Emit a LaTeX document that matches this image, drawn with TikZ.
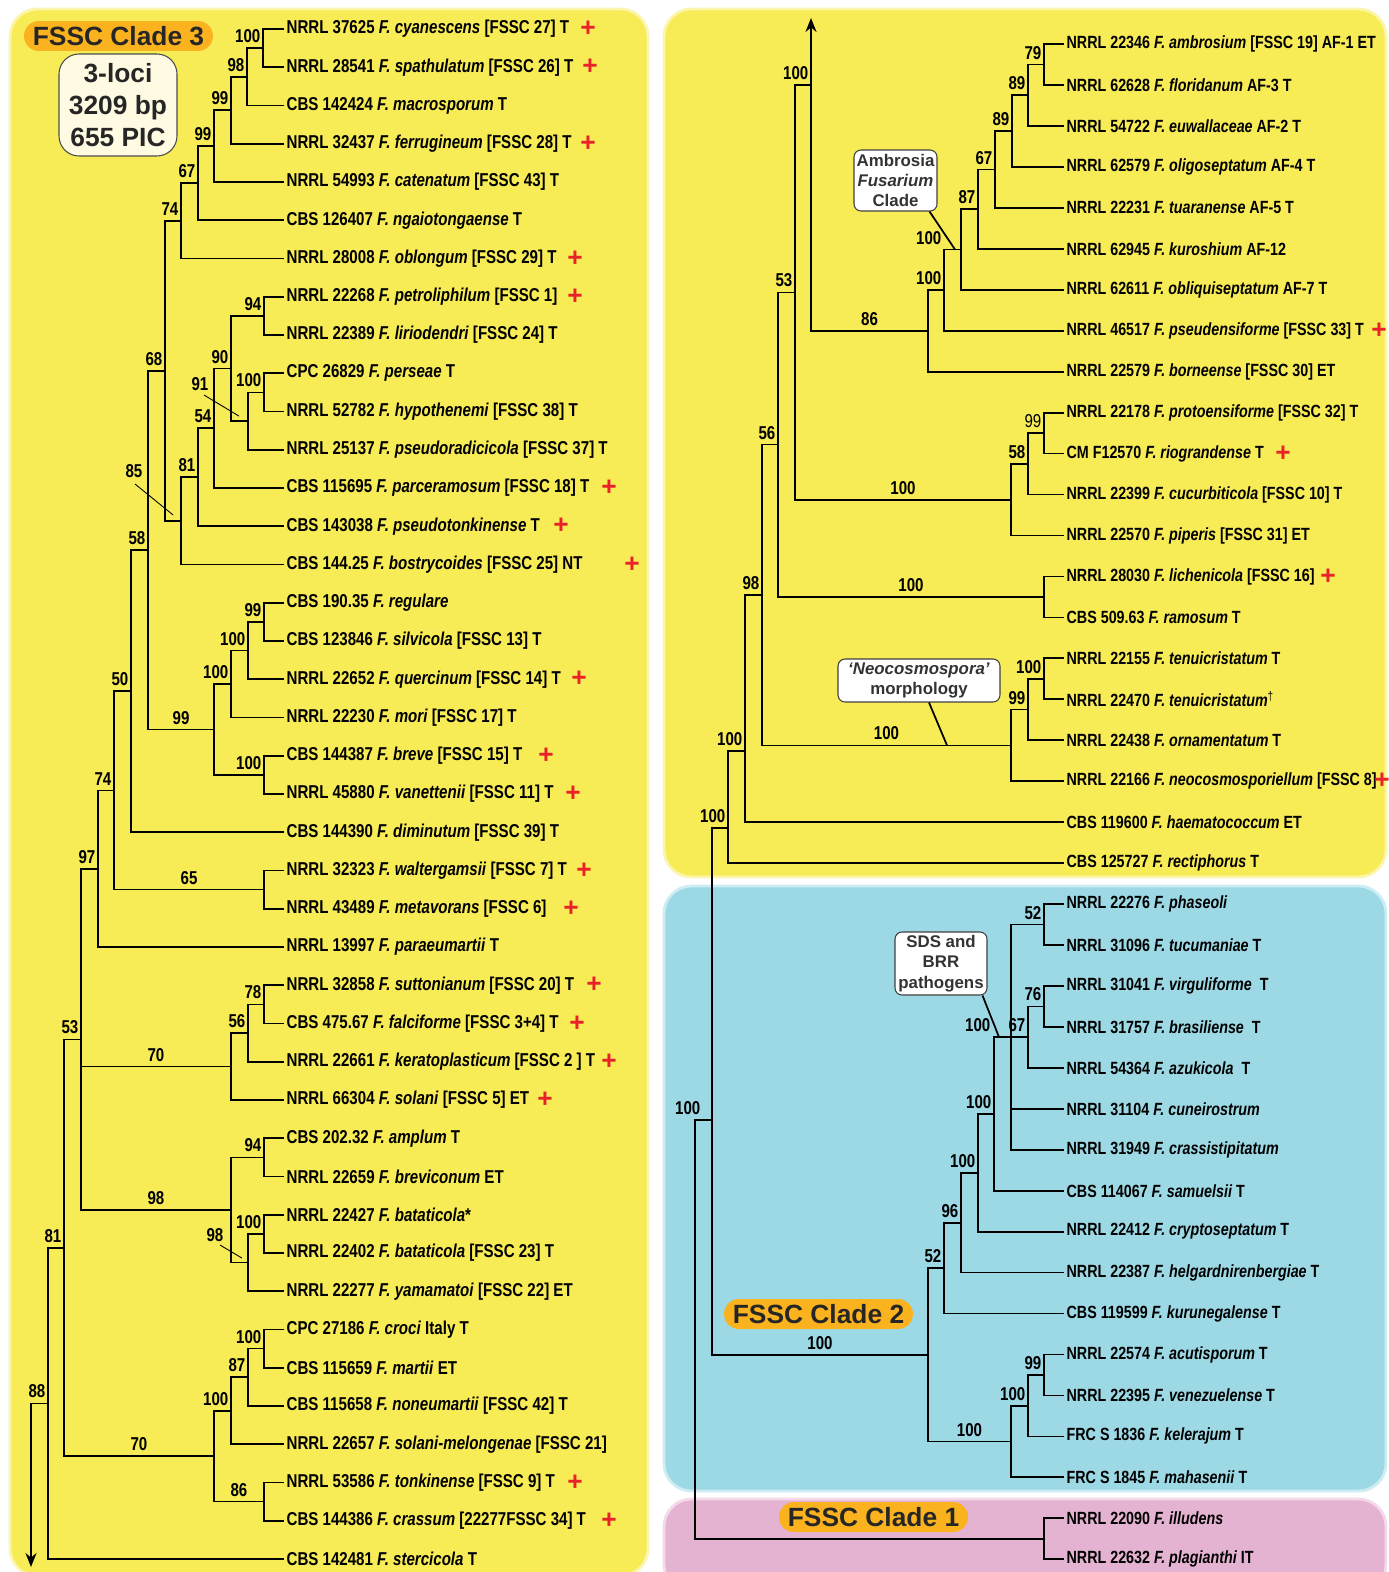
\documentclass[tikz,border=0pt]{standalone}
\usepackage{fontspec}
\setmainfont{Liberation Sans}
\newfontfamily\nar{Liberation Sans}[FakeStretch=0.81]
\usetikzlibrary{arrows.meta,calc}

\definecolor{panelY}{RGB}{247,235,86}
\definecolor{panelYedge}{RGB}{251,246,172}
\definecolor{panelB}{RGB}{156,217,229}
\definecolor{panelBedge}{RGB}{206,236,244}
\definecolor{panelP}{RGB}{229,179,210}
\definecolor{panelPedge}{RGB}{244,217,234}
\definecolor{pill}{RGB}{250,178,30}
\definecolor{cream}{RGB}{255,251,226}
\definecolor{crossred}{RGB}{232,34,40}

\newcommand{\Fs}[1]{\textit{F. #1}}

\tikzset{
  taxon/.style={anchor=west, inner sep=1pt, font=\nar\bfseries\fontsize{10.6}{12}\selectfont},
  rtaxon/.style={taxon, font=\nar\bfseries\fontsize{10.05}{12}\selectfont},
  bs/.style={anchor=south east, inner sep=1pt, yshift=1.5pt, font=\nar\bfseries\fontsize{10.6}{12}\selectfont},
  bsm/.style={midway, anchor=south, inner sep=1pt, yshift=1.5pt, font=\nar\bfseries\fontsize{10.6}{12}\selectfont},
  bsl/.style={inner sep=1pt, font=\nar\bfseries\fontsize{10.6}{12}\selectfont},
  crossmark/.style={text=crossred, inner sep=0pt, font=\bfseries\fontsize{15}{15}\selectfont},
  leader/.style={line width=0.5pt},
  note/.style={draw=black!75, fill=white, line width=0.6pt, rounded corners=4pt, align=center,
    inner sep=0pt, text=black!80, font=\bfseries\fontsize{9.6}{11.6}\selectfont},
  clade/.style={fill=pill, rounded corners=0.3cm, minimum width=3.78cm, minimum height=0.6cm,
    inner sep=0pt, text=black!85, font=\bfseries\fontsize{15}{15}\selectfont},
  panel/.style={line width=1.6pt, rounded corners=0.55cm},
}

\begin{document}
\begin{tikzpicture}[x=0.02cm, y=-0.02cm, line width=1pt]
  \useasboundingbox (0,0) rectangle (1389,1572);
  \fill[white] (0,0) rectangle (1389,1572);

  % panels
  \draw[panel, fill=panelY, draw=panelYedge] (10,9) rectangle (648,1576);
  \draw[panel, fill=panelY, draw=panelYedge] (664,9) rectangle (1386,877);
  \draw[panel, fill=panelB, draw=panelBedge] (664,886) rectangle (1386,1491);
  \draw[panel, fill=panelP, draw=panelPedge] (664,1499) rectangle (1386,1592);

  % ---------------- left tree: taxa ----------------
  \foreach \t [count=\i] in {
    {NRRL 37625 \Fs{cyanescens} [FSSC 27] T},
    {NRRL 28541 \Fs{spathulatum} [FSSC 26] T},
    {CBS 142424 \Fs{macrosporum} T},
    {NRRL 32437 \Fs{ferrugineum} [FSSC 28] T},
    {NRRL 54993 \Fs{catenatum} [FSSC 43] T},
    {CBS 126407 \Fs{ngaiotongaense} T},
    {NRRL 28008 \Fs{oblongum} [FSSC 29] T},
    {NRRL 22268 \Fs{petroliphilum} [FSSC 1]},
    {NRRL 22389 \Fs{liriodendri} [FSSC 24] T},
    {CPC 26829 \Fs{perseae} T},
    {NRRL 52782 \Fs{hypothenemi} [FSSC 38] T},
    {NRRL 25137 \Fs{pseudoradicicola} [FSSC 37] T},
    {CBS 115695 \Fs{parceramosum} [FSSC 18] T},
    {CBS 143038 \Fs{pseudotonkinense} T},
    {CBS 144.25 \Fs{bostrycoides} [FSSC 25] NT},
    {CBS 190.35 \Fs{regulare}},
    {CBS 123846 \Fs{silvicola} [FSSC 13] T},
    {NRRL 22652 \Fs{quercinum} [FSSC 14] T},
    {NRRL 22230 \Fs{mori} [FSSC 17] T},
    {CBS 144387 \Fs{breve} [FSSC 15] T},
    {NRRL 45880 \Fs{vanettenii} [FSSC 11] T},
    {CBS 144390 \Fs{diminutum} [FSSC 39] T},
    {NRRL 32323 \Fs{waltergamsii} [FSSC 7] T},
    {NRRL 43489 \Fs{metavorans} [FSSC 6]},
    {NRRL 13997 \Fs{paraeumartii} T},
    {NRRL 32858 \Fs{suttonianum} [FSSC 20] T},
    {CBS 475.67 \Fs{falciforme} [FSSC 3+4] T},
    {NRRL 22661 \Fs{keratoplasticum} [FSSC 2 ] T},
    {NRRL 66304 \Fs{solani} [FSSC 5] ET},
    {CBS 202.32 \Fs{amplum} T},
    {NRRL 22659 \Fs{breviconum} ET},
    {NRRL 22427 \Fs{bataticola}*},
    {NRRL 22402 \Fs{bataticola} [FSSC 23] T},
    {NRRL 22277 \Fs{yamamatoi} [FSSC 22] ET},
    {CPC 27186 \Fs{croci} Italy T},
    {CBS 115659 \Fs{martii} ET},
    {CBS 115658 \Fs{noneumartii} [FSSC 42] T},
    {NRRL 22657 \Fs{solani-melongenae} [FSSC 21]},
    {NRRL 53586 \Fs{tonkinense} [FSSC 9] T},
    {CBS 144386 \Fs{crassum} [22277FSSC 34] T},
    {CBS 142481 \Fs{stercicola} T}}
    \node[taxon] (l\i) at (284,{29+38.25*(\i-1)}) {\t};

  % left internal nodes
  \coordinate (a1) at (263,48.1);   \coordinate (a2) at (247,76.8);
  \coordinate (a3) at (231,110.3);  \coordinate (a4) at (214,146.1);
  \coordinate (a5) at (198,183.2);  \coordinate (a6) at (181,220.9);
  \coordinate (b1) at (264,315.9);  \coordinate (b2) at (264,392.4);
  \coordinate (b3) at (248,421.1);  \coordinate (b4) at (231,368.5);
  \coordinate (b5) at (214,428.2);  \coordinate (b6) at (198,477.2);
  \coordinate (b7) at (181,520.9);  \coordinate (c68) at (165,370.9);
  \coordinate (d1) at (264,621.9);  \coordinate (d2) at (248,650.6);
  \coordinate (d3) at (231,684);    \coordinate (d4) at (264,774.9);
  \coordinate (d5) at (214,729.5);  \coordinate (c58) at (148,550.2);
  \coordinate (c50) at (131,691.2); \coordinate (e1) at (264,889.6);
  \coordinate (c74) at (114,790.4); \coordinate (c97) at (98,868.7);
  \coordinate (f1) at (264,1004.4); \coordinate (f2) at (248,1033.1);
  \coordinate (f3) at (231,1066.5); \coordinate (g1) at (264,1157.4);
  \coordinate (g2) at (264,1233.9); \coordinate (g3) at (248,1262.6);
  \coordinate (g4) at (231,1210);   \coordinate (c53) at (81,1039.4);
  \coordinate (h1) at (264,1348.6); \coordinate (h2) at (248,1377.3);
  \coordinate (h3) at (231,1410.8); \coordinate (h4) at (264,1501.6);
  \coordinate (h5) at (214,1456.2); \coordinate (c81) at (64,1247.8);
  \coordinate (c88) at (48,1403.4); \coordinate (tipL) at (31,1567);

  % left branches
  \draw (l1.west) -| (a1) |- (l2.west);
  \draw (a1) -| (a2) |- (l3.west);
  \draw (a2) -| (a3) |- (l4.west);
  \draw (a3) -| (a4) |- (l5.west);
  \draw (a4) -| (a5) |- (l6.west);
  \draw (a5) -| (a6) |- (l7.west);
  \draw (l8.west) -| (b1) |- (l9.west);
  \draw (l10.west) -| (b2) |- (l11.west);
  \draw (b2) -| (b3) |- (l12.west);
  \draw (b1) -| (b4) |- (b3);
  \draw (b4) -| (b5) |- (l13.west);
  \draw (b5) -| (b6) |- (l14.west);
  \draw (b6) -| (b7) |- (l15.west);
  \draw (a6) -| (c68) |- (b7);
  \draw (l16.west) -| (d1) |- (l17.west);
  \draw (d1) -| (d2) |- (l18.west);
  \draw (d2) -| (d3) |- (l19.west);
  \draw (l20.west) -| (d4) |- (l21.west);
  \draw (d3) -| (d5) |- (d4);
  \draw (c68) -| (c58) |- (d5);
  \draw (c58) -| (c50) |- (l22.west);
  \draw (l23.west) -| (e1) |- (l24.west);
  \draw (c50) -| (c74) |- (e1);
  \draw (c74) -| (c97) |- (l25.west);
  \draw (l26.west) -| (f1) |- (l27.west);
  \draw (f1) -| (f2) |- (l28.west);
  \draw (f2) -| (f3) |- (l29.west);
  \draw (l30.west) -| (g1) |- (l31.west);
  \draw (l32.west) -| (g2) |- (l33.west);
  \draw (g2) -| (g3) |- (l34.west);
  \draw (g1) -| (g4) |- (g3);
  \draw (c97) -| (c53) |- (g4);
  \draw (c53 |- f3) -- (f3);
  \draw (l35.west) -| (h1) |- (l36.west);
  \draw (h1) -| (h2) |- (l37.west);
  \draw (h2) -| (h3) |- (l38.west);
  \draw (l39.west) -| (h4) |- (l40.west);
  \draw (h3) -| (h5) |- (h4);
  \draw (c53) -| (c81) |- (h5);
  \draw (c81) -| (c88) |- (l41.west);
  \draw[-{Stealth[length=0.28cm,width=0.22cm]}] (c88) -| (tipL);

  % ---------------- right tree: taxa ----------------
  \foreach \t [count=\i] in {
    {NRRL 22346 \Fs{ambrosium} [FSSC 19] AF-1 ET},
    {NRRL 62628 \Fs{floridanum} AF-3 T},
    {NRRL 54722 \Fs{euwallaceae} AF-2 T},
    {NRRL 62579 \Fs{oligoseptatum} AF-4 T},
    {NRRL 22231 \Fs{tuaranense} AF-5 T},
    {NRRL 62945 \Fs{kuroshium} AF-12},
    {NRRL 62611 \Fs{obliquiseptatum} AF-7 T},
    {NRRL 46517 \Fs{pseudensiforme} [FSSC 33] T},
    {NRRL 22579 \Fs{borneense} [FSSC 30] ET},
    {NRRL 22178 \Fs{protoensiforme} [FSSC 32] T},
    {CM F12570 \Fs{riograndense} T},
    {NRRL 22399 \Fs{cucurbiticola} [FSSC 10] T},
    {NRRL 22570 \Fs{piperis} [FSSC 31] ET},
    {NRRL 28030 \Fs{lichenicola} [FSSC 16]},
    {CBS 509.63 \Fs{ramosum} T},
    {NRRL 22155 \Fs{tenuicristatum} T},
    {NRRL 22470 \Fs{tenuicristatum}\textsuperscript{\mdseries †}},
    {NRRL 22438 \Fs{ornamentatum} T},
    {NRRL 22166 \Fs{neocosmosporiellum} [FSSC 8]},
    {CBS 119600 \Fs{haematococcum} ET},
    {CBS 125727 \Fs{rectiphorus} T},
    {NRRL 22276 \Fs{phaseoli}},
    {NRRL 31096 \Fs{tucumaniae} T},
    {NRRL 31041 \Fs{virguliforme}\ \ T},
    {NRRL 31757 \Fs{brasiliense}\ \ T},
    {NRRL 54364 \Fs{azukicola}\ \ T},
    {NRRL 31104 \Fs{cuneirostrum}},
    {NRRL 31949 \Fs{crassistipitatum}},
    {CBS 114067 \Fs{samuelsii} T},
    {NRRL 22412 \Fs{cryptoseptatum} T},
    {NRRL 22387 \Fs{helgardnirenbergiae} T},
    {CBS 119599 \Fs{kurunegalense} T},
    {NRRL 22574 \Fs{acutisporum} T},
    {NRRL 22395 \Fs{venezuelense} T},
    {FRC S 1836 \Fs{kelerajum} T},
    {FRC S 1845 \Fs{mahasenii} T},
    {NRRL 22090 \Fs{illudens}},
    {NRRL 22632 \Fs{plagianthi} IT}}
    \node[rtaxon] (r\i) at (1064,{44.1+40.95*(\i-1)}) {\t};

  % right internal nodes
  \coordinate (s1) at (1044,64.6);   \coordinate (s2) at (1028,95.3);
  \coordinate (s3) at (1012,131.1);  \coordinate (s4) at (995,169.5);
  \coordinate (s5) at (978,209.2);   \coordinate (s6) at (961,249.5);
  \coordinate (s7) at (944,290.1);   \coordinate (s8) at (928,330.9);
  \coordinate (top) at (811,85);     \coordinate (tipR) at (811,18);
  \coordinate (s10) at (1044,433.1); \coordinate (s11) at (1028,463.9);
  \coordinate (s12) at (1011,499.7); \coordinate (k53) at (795,292.4);
  \coordinate (s14) at (1044,596.9); \coordinate (k56) at (778,444.6);
  \coordinate (s16) at (1044,678.8); \coordinate (s17) at (1028,709.6);
  \coordinate (s18) at (1011,745.4); \coordinate (k98) at (762,595);
  \coordinate (k100a) at (745,751);  \coordinate (k100b) at (728,828);
  \coordinate (k712) at (712,1120);  \coordinate (root) at (695,1329.4);
  \coordinate (q52) at (1044,924.5); \coordinate (q76) at (1044,1006.4);
  \coordinate (q67) at (1028,1037.1); \coordinate (qp) at (1011,1037.1);
  \coordinate (qq) at (994,1113.9);  \coordinate (qs) at (978,1172.8);
  \coordinate (qt) at (961,1222.7);  \coordinate (qu) at (944,1268.1);
  \coordinate (v1) at (1044,1375);   \coordinate (v2) at (1028,1405.7);
  \coordinate (v3) at (1011,1441.5); \coordinate (w) at (928,1354.8);
  \coordinate (p1) at (1044,1538.8);

  % right branches (Clade 3 part)
  \draw (r1.west) -| (s1) |- (r2.west);
  \draw (s1) -| (s2) |- (r3.west);
  \draw (s2) -| (s3) |- (r4.west);
  \draw (s3) -| (s4) |- (r5.west);
  \draw (s4) -| (s5) |- (r6.west);
  \draw (s5) -| (s6) |- (r7.west);
  \draw (s6) -| (s7) |- (r8.west);
  \draw (s7) -| (s8) |- (r9.west);
  \draw[-{Stealth[length=0.28cm,width=0.22cm]}] (s8) -| (tipR);
  \draw (r10.west) -| (s10) |- (r11.west);
  \draw (s10) -| (s11) |- (r12.west);
  \draw (s11) -| (s12) |- (r13.west);
  \draw (top) -| (k53) |- (s12);
  \draw (r14.west) -| (s14) |- (r15.west);
  \draw (k53) -| (k56) |- (s14);
  \draw (r16.west) -| (s16) |- (r17.west);
  \draw (s16) -| (s17) |- (r18.west);
  \draw (s17) -| (s18) |- (r19.west);
  \draw (k56) -| (k98) |- (s18);
  \draw (k98) -| (k100a) |- (r20.west);
  \draw (k100a) -| (k100b) |- (r21.west);
  \draw (k100b) -| (k712) |- (w);
  \draw (k712) -| (root) |- (p1);
  \draw (r37.west) -| (p1) |- (r38.west);

  % Clade 2
  \draw (r22.west) -| (q52) |- (r23.west);
  \draw (r24.west) -| (q76) |- (r25.west);
  \draw (q76) -| (q67) |- (r26.west);
  \draw (q52) -| (qp) |- (r28.west);
  \draw (qp) -- (q67);
  \draw (qp |- r27) -- (r27.west);
  \draw (qp) -| (qq) |- (r29.west);
  \draw (qq) -| (qs) |- (r30.west);
  \draw (qs) -| (qt) |- (r31.west);
  \draw (qt) -| (qu) |- (r32.west);
  \draw (r33.west) -| (v1) |- (r34.west);
  \draw (v1) -| (v2) |- (r35.west);
  \draw (v2) -| (v3) |- (r36.west);
  \draw (qu) -| (w) |- (v3);

  % support values at nodes
  \foreach \n/\v in {a1/100, a2/98, a3/99, a4/99, a5/67, a6/74, b1/94, b2/100,
      b4/90, b5/54, b6/81, c68/68, d1/99, d2/100, d3/100, d4/100, c58/58, c50/50,
      c74/74, c97/97, f1/78, f2/56, g1/94, g2/100, c53/53, h1/100, h2/87, h3/100,
      c81/81, c88/88, s1/79, s2/89, s3/89, s4/67, s5/87, s7/100, top/100, k53/53,
      s11/58, k56/56, s16/100, s17/99, k98/98, k100a/100, k100b/100, q52/52,
      q76/76, q67/67, qq/100, qs/100, qt/96, qu/52, v1/99, v2/100}
    \node[bs] (bs-\n) at (\n) {\v};
  \node[bs, xshift=-0.34cm] (bs-s6) at (s6) {100};
  \node[bs, xshift=-0.18cm] (bs-k712) at (k712) {100};
  \node[bs, xshift=-0.36cm] (bs-qp) at (qp) {100};
  \node[bs, font=\nar\fontsize{10.6}{12}\selectfont] (bs-s10) at (s10) {99};

  % support values on long branches
  \foreach \n/\p/\v in {d5/c58/99, e1/c74/65, f3/c53/70, g4/c53/98, h4/h5/86,
      h5/c81/70, s8/top/86, s12/k53/100, s14/k56/100, s18/k98/100, v3/w/100,
      w/k712/100}
    \path (\n) -- (\n -| \p) node[bsm] (bm-\n) {\v};

  % support values with leaders
  \node[bsl] (lab91) at (200,384) {91};
  \draw[leader] (204,395) -- ([xshift=-0.18cm, yshift=0.1cm]b3);
  \node[bsl] (lab85) at (134,471) {85};
  \draw[leader] (135,484) -- ([xshift=-0.16cm, yshift=0.12cm]b7);
  \node[bsl] (lab98) at (215,1235) {98};
  \draw[leader] (220,1245) -- ([xshift=-0.12cm, yshift=0.09cm]g3);

  % red crosses
  \foreach \i/\xx in {1/588, 2/590, 4/588, 7/575, 8/575, 13/609, 14/561, 15/632,
      18/579, 20/546, 21/573, 23/584, 24/571, 26/594, 27/577, 28/609, 29/545,
      39/575, 40/609}
    \node[crossmark] (xl\i) at (\xx,0 |- l\i) {+};
  \foreach \i/\xx in {8/1379, 11/1283, 14/1328, 19/1382}
    \node[crossmark] (xr\i) at (\xx,0 |- r\i) {+};

  % notes
  \node[note, minimum width=1.66cm, minimum height=1.22cm] (ambro) at (895.5,180.5)
    {Ambrosia\\\textit{Fusarium}\\Clade};
  \draw ([xshift=-0.16cm]ambro.south east) -- ([xshift=-0.12cm]s6);
  \node[note, minimum width=3.24cm, minimum height=0.86cm] (neo) at (919,680.5)
    {\textit{‘Neocosmospora’}\\morphology};
  \draw ([xshift=0.2cm]neo.south) -- ([xshift=-1.28cm]s18);
  \node[note, minimum width=1.84cm, minimum height=1.26cm] (sds) at (941,963.5)
    {SDS and\\BRR\\pathogens};
  \draw ([xshift=-0.1cm]sds.south east) -- ([xshift=-0.24cm]qp);

  \node[draw=black!70, fill=cream, line width=0.6pt, rounded corners=0.4cm,
    minimum width=2.36cm, minimum height=2.04cm, align=center, inner sep=0pt,
    text=black!85, font=\bfseries\fontsize{15}{18}\selectfont] (loci) at (118,105)
    {3-loci\\3209 bp\\655 PIC};

  % clade labels
  \node[clade] (cl3) at (118.5,36) {FSSC Clade 3};
  \node[clade] (cl2) at (818.5,1314) {FSSC Clade 2};
  \node[clade] (cl1) at (873.5,1517) {FSSC Clade 1};
\end{tikzpicture}
\end{document}
